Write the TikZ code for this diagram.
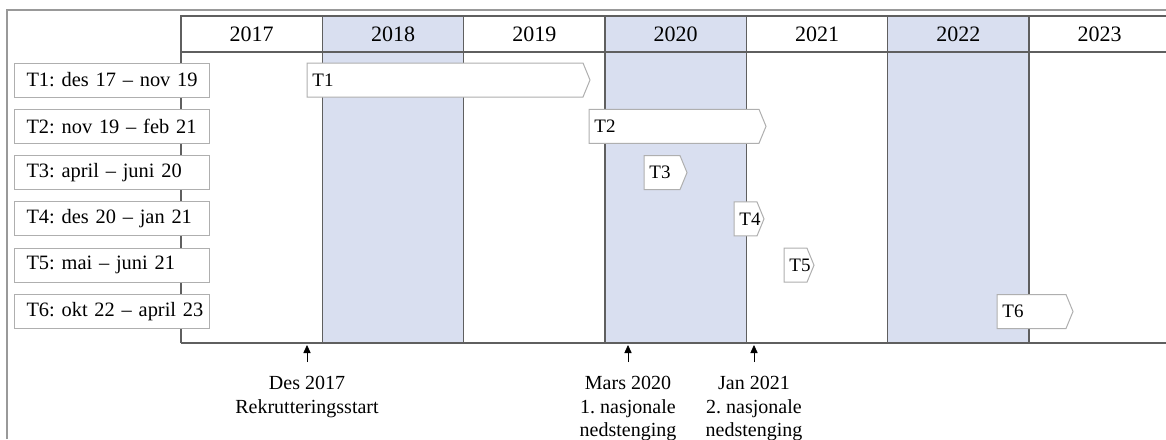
\documentclass[tikz,border=0pt]{standalone}
\usepackage{fontspec}
\setmainfont{Liberation Serif}
\usetikzlibrary{arrows.meta}
\frenchspacing

\definecolor{yearshade}{RGB}{217,223,240}
\definecolor{gridgray}{RGB}{95,95,95}
\definecolor{boxgray}{RGB}{175,175,175}

\begin{document}
\begin{tikzpicture}[x=0.5pt,y=-0.5pt,>={Triangle[length=4pt,width=3.6pt]},
	gridline/.style={draw=gridgray,line width=0.7pt},
	period/.style={draw=boxgray,fill=white,line width=0.5pt,anchor=west,
		text width=85.5pt,align=left,inner xsep=6pt,inner ysep=0pt,
		minimum height=17pt,font=\fontsize{10.2}{12}\selectfont},
	wavebar/.style={draw=boxgray,fill=white,line width=0.5pt},
	wavetext/.style={anchor=west,inner xsep=2.5pt,font=\fontsize{9.5}{11}\selectfont},
	year/.style={font=\fontsize{11}{13}\selectfont},
	note/.style={anchor=north,align=center,inner xsep=4pt,inner ysep=7pt,
		font=\fontsize{10}{11.8}\selectfont}]
	\useasboundingbox (0,0) rectangle (1166,439);

	% outer frame
	\draw[draw=black!40,line width=0.8pt] (7,439) -- (7,10) -- (1166,10);

	% shaded years
	\foreach \c in {1,3,5}
		\fill[yearshade] ({181+141.33*\c},16) rectangle ({181+141.33*(\c+1)},343);

	% grid
	\draw[gridline] (181,343) -- (181,16) -- (1166,16);
	\draw[gridline] (181,52) -- (1166,52);
	\draw[gridline] (181,343) -- (1166,343);
	\foreach \c in {1,...,6}
		\draw[gridline] ({181+141.33*\c},16) -- ({181+141.33*\c},343);

	% year headers
	\foreach \c/\yr in {0/2017,1/2018,2/2019,3/2020,4/2021,5/2022,6/2023}
		\node[year] (y\yr) at ({251.7+141.33*\c},34) {\yr};

	% periods and bars
	\foreach \i/\txt/\a/\b in {1/{des 17 – nov 19}/307/590,
		2/{nov 19 – feb 21}/589/766,
		3/{april – juni 20}/644/687,
		4/{des 20 – jan 21}/734/764,
		5/{mai – juni 21}/784/814,
		6/{okt 22 – april 23}/997/1073}{
		\pgfmathsetmacro\yy{80+46.3*(\i-1)}
		\node[period] (p\i) at (14,\yy) {\mbox{T\i: \txt}};
		\draw[wavebar] (\a,\yy-17) -- (\b-7,\yy-17) -- (\b,\yy)
			-- (\b-7,\yy+17) -- (\a,\yy+17) -- cycle;
		\node[wavetext] (t\i) at (\a,\yy) {T\i};
	}

	% events
	\node[note] (rekr) at (307,362) {Des 2017\\Rekrutteringsstart};
	\node[note] (mars) at (628,362) {Mars 2020\\1. nasjonale\\nedstenging};
	\node[note] (jan) at (754,362) {Jan 2021\\2. nasjonale\\nedstenging};
	\coordinate (rekrtip) at (307,345);
	\coordinate (marstip) at (628,345);
	\coordinate (jantip) at (754,345);

	\draw[->,line width=0.4pt] (rekr.north) -- (rekrtip);
	\draw[->,line width=0.4pt] (mars.north) -- (marstip);
	\draw[->,line width=0.4pt] (jan.north) -- (jantip);
\end{tikzpicture}
\end{document}
